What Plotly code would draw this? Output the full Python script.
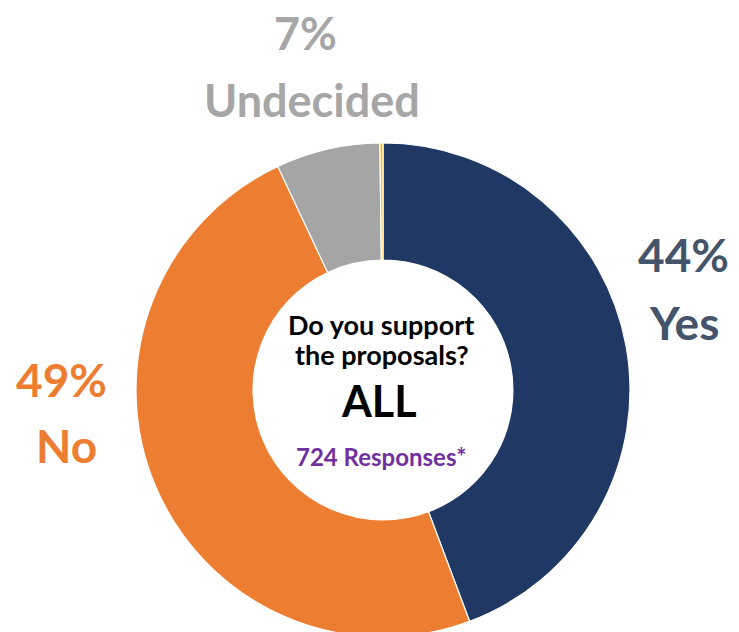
import plotly.graph_objects as go

# Data
categories = ["Yes", "No", "Undecided", "Other"]
values = [44.3, 48.7, 6.8, 0.2]
pct_labels = ["44%", "49%", "7%"]
slice_colors = ["#203864", "#ED7D31", "#A5A5A5", "#FFC000"]

W, H = 739, 645
FONT = "Lato"


def px(x, y):
    return x / W, 1 - y / H


fig = go.Figure(
    go.Pie(
        labels=categories,
        values=values,
        hole=0.526,
        sort=False,
        direction="clockwise",
        rotation=0,
        textinfo="none",
        hoverinfo="label+percent",
        marker=dict(colors=slice_colors, line=dict(color="white", width=1.2)),
        domain=dict(x=[136 / W, 630 / W], y=[1 - 637 / H, 1 - 143 / H]),
        showlegend=False,
    )
)

ann = []


def add(text, x, y, size, color):
    xp, yp = px(x, y)
    ann.append(dict(text=text, x=xp, y=yp, xref="paper", yref="paper",
                    xanchor="center", yanchor="middle", showarrow=False,
                    font=dict(family=FONT, size=size, color=color)))


add("<b>%s</b>" % pct_labels[2], 305, 33, 45, "#A6A6A6")
add("<b>Undecided</b>", 312, 100, 45, "#A6A6A6")
add("<b>%s</b>" % pct_labels[0], 683, 254, 46, "#44546A")
add("<b>Yes</b>", 684, 322, 46, "#44546A")
add("<b>%s</b>" % pct_labels[1], 61, 379, 46, "#ED7D31")
add("<b>No</b>", 66, 445, 46, "#ED7D31")

add("<b>Do you support</b>", 381, 324, 27, "#000000")
add("<b>the proposals?</b>", 382, 354, 27, "#000000")
add("<b>ALL</b>", 379, 400, 43, "#000000")
add("<b>724 Responses*</b>", 381, 456, 24, "#7030A0")

fig.update_layout(
    width=W, height=H,
    margin=dict(l=0, r=0, t=0, b=0),
    paper_bgcolor="white", plot_bgcolor="white",
    annotations=ann,
)

fig.write_html(
    "out.html",
    config={"displayModeBar": False},
    post_script="document.body.style.margin='0px';document.body.style.overflow='hidden';",
)
